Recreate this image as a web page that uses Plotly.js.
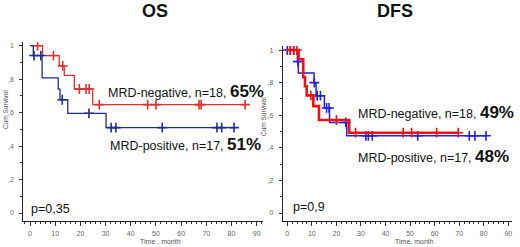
<!DOCTYPE html>
<html><head><meta charset="utf-8">
<script src="https://cdn.plot.ly/plotly-3.0.1.min.js"></script>
<style>html,body{margin:0;padding:0;background:#fff}#chart{width:520px;height:247px}</style>
</head><body><div id="chart"></div>
<script>
// ---- OS panel data ----
const osNegTimes = [0, 5.0, 11.6, 13.6, 17.6, 24.9, 85.4];
const osNegSurv  = [1, 0.941, 0.879, 0.823, 0.741, 0.648, 0.648];
const osNegCens  = [3.0, 9.3, 13.0, 19.6, 22.2, 23.5, 27.5, 46.7, 50.0, 67.1, 67.9, 85.4];
const osPosTimes = [0, 1.3, 4.8, 11.2, 11.9, 15.0, 30.2, 81.0];
const osPosSurv  = [1, 0.941, 0.807, 0.74, 0.677, 0.596, 0.51, 0.51];
const osPosCens  = [1.6, 4.3, 12.8, 23.4, 32.2, 34.1, 52.5, 74.2, 76.1, 81.0];
// ---- DFS panel data ----
const dfsNegTimes = [0, 4.6, 6.5, 7.2, 7.9, 10.6, 12.9, 25.2, 69.6];
const dfsNegSurv  = [1, 0.944, 0.833, 0.778, 0.722, 0.656, 0.571, 0.493, 0.493];
const dfsNegCens  = [1.2, 2.6, 3.9, 9.6, 20.0, 27.8, 47.2, 50.6, 60.8, 69.6];
const dfsPosTimes = [0, 4.1, 4.5, 10.9, 11.7, 15.1, 17.2, 24.2, 80.9];
const dfsPosSurv  = [1, 0.929, 0.86, 0.80, 0.72, 0.645, 0.556, 0.474, 0.474];
const dfsPosCens  = [0, 1.2, 2.6, 4.3, 11.0, 12.2, 13.5, 16.0, 17.0, 23.8, 32.0, 33.0, 34.6, 53.1, 74.1, 76.4, 80.9];
// ---- labels ----
const panelTitles = ['OS', 'DFS'];
const negLabel = ['MRD-negative, n=18, ', 'MRD-negative, n=18, '];
const negPct = ['65%', '49%'];
const posLabel = ['MRD-positive, n=17, ', 'MRD-positive, n=17, '];
const posPct = ['51%', '48%'];
const pValues = ['p=0,35', 'p=0,9'];
const xTitles = ['Time , month', 'Time, month'];
const yTitle = 'Cum Survival';
const xTickVals = [0,10,20,30,40,50,60,70,80,90];
const yTickVals = [0,0.2,0.4,0.6,0.8,1];
const yTickText = ['0',',2',',4',',6',',8','1'];

function stepAt(T,S,t){let v=S[0];for(let i=0;i<T.length;i++){if(T[i]<=t+1e-9)v=S[i];}return v;}

function curve(T,S,C,color,width,xa,ya){
  return [
    {x:T,y:S,type:'scatter',mode:'lines',line:{shape:'hv',color:color,width:width},xaxis:xa,yaxis:ya,hoverinfo:'skip'},
    {x:C,y:C.map(t=>stepAt(T,S,t)),type:'scatter',mode:'markers',marker:{symbol:'cross-thin',size:7,line:{color:color,width:1.6}},xaxis:xa,yaxis:ya,hoverinfo:'skip'}
  ];
}

const data = [].concat(
  curve(osNegTimes,osNegSurv,osNegCens,'#e0302c',1.3,'x','y'),
  curve(osPosTimes,osPosSurv,osPosCens,'#1f2d8c',1.3,'x','y'),
  curve(dfsPosTimes,dfsPosSurv,dfsPosCens,'#2222d6',1.5,'x2','y2'),
  curve(dfsNegTimes,dfsNegSurv,dfsNegCens,'#f01010',2.6,'x2','y2')
);

const W=520,H=247;
const px=v=>v/W, py=v=>1-v/H;
function xax(domain,range,anchor){return {domain:domain,range:range,anchor:anchor,showgrid:false,zeroline:false,
  showline:true,linecolor:'#222',linewidth:1,ticks:'outside',ticklen:4,tickcolor:'#333',tickwidth:1,
  tickvals:xTickVals,tickfont:{family:'Liberation Sans, Arial',size:7,color:'#666'},ticklabelstandoff:2,
  minor:{dtick:2,ticks:'outside',ticklen:2,tickcolor:'#333'}};}
function yax(domain,range,anchor){return {domain:domain,range:range,anchor:anchor,showgrid:false,zeroline:false,
  showline:true,linecolor:'#222',linewidth:1,ticks:'outside',ticklen:3,tickcolor:'#333',tickwidth:1,
  tickvals:yTickVals,ticktext:yTickText,tickfont:{family:'Liberation Sans, Arial',size:7,color:'#666'},ticklabelstandoff:4,
  minor:{dtick:0.1,ticks:'outside',ticklen:2,tickcolor:'#333'}};}

const lf='Liberation Sans, Arial';
function ann(text,x,y,size,opts){return Object.assign({text:text,xref:'paper',yref:'paper',x:px(x),y:py(y),xanchor:'left',yanchor:'middle',showarrow:false,font:{family:lf,size:size,color:'#111'}},opts||{});}

const annotations=[
  ann('<b>'+panelTitles[0]+'</b>',155,11,18,{xanchor:'center'}),
  ann('<b>'+panelTitles[1]+'</b>',395,11,18,{xanchor:'center'}),
  ann(negLabel[0]+'<b><span style="font-size:17px">'+negPct[0]+'</span></b>',106,91,12.5),
  ann(posLabel[0]+'<b><span style="font-size:17px">'+posPct[0]+'</span></b>',108,144,12.5),
  ann(negLabel[1]+'<b><span style="font-size:17px">'+negPct[1]+'</span></b>',356,112,12.5),
  ann(posLabel[1]+'<b><span style="font-size:17px">'+posPct[1]+'</span></b>',356,156,12.5),
  ann(pValues[0],29,209,12.5),
  ann(pValues[1],291,207,12.5),
  ann(xTitles[0],160,241,7,{xanchor:'center',font:{family:lf,size:7,color:'#555'}}),
  ann(xTitles[1],414,241,7,{xanchor:'center',font:{family:lf,size:7,color:'#555'}}),
  ann(yTitle,5,110,6.5,{xanchor:'center',textangle:-90,font:{family:lf,size:6.5,color:'#555'}}),
  ann(yTitle,264,117,6.5,{xanchor:'center',textangle:-90,font:{family:lf,size:6.5,color:'#555'}})
];

const layout={width:W,height:H,margin:{l:0,r:0,t:0,b:0},paper_bgcolor:'#fff',plot_bgcolor:'#fff',showlegend:false,
  xaxis:xax([px(23.3),px(263)],[-2.66,92.5],'y'),
  yaxis:yax([1-220.7/H,1-42/H],[-0.046,1.022],'x'),
  xaxis2:xax([px(282.7),px(512)],[-1.87,91.5],'y2'),
  yaxis2:yax([1-220.7/H,1-46/H],[-0.047,1.025],'x2'),
  annotations:annotations};

Plotly.newPlot('chart',data,layout,{staticPlot:true,displayModeBar:false});
</script></body></html>
